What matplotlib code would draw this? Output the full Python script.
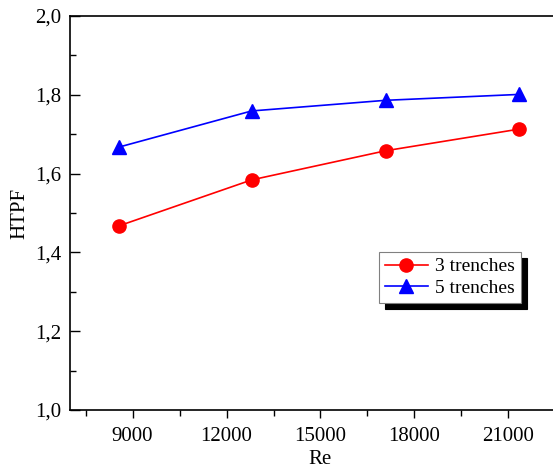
import matplotlib
matplotlib.use('Agg')
import matplotlib.pyplot as plt
from matplotlib.ticker import FuncFormatter, MultipleLocator

re_vals = [8550, 12800, 17080, 21350]
htpf_3 = [1.467, 1.584, 1.658, 1.713]
htpf_5 = [1.667, 1.759, 1.786, 1.801]
labels = ['3 trenches', '5 trenches']

plt.rcParams['font.family'] = ['Liberation Serif', 'DejaVu Serif']

fig = plt.figure(figsize=(5.53, 4.70), dpi=100)
# axes run past the right edge of the picture, as in the reference crop
ax = fig.add_axes([70/553, 1 - 410/470, (571-70)/553, (410-16)/470])

ax.plot(re_vals, htpf_3, color='red', marker='o', ms=9.5, lw=1.2, label=labels[0])
ax.plot(re_vals, htpf_5, color='blue', marker='^', ms=10, lw=1.2, label=labels[1])

ax.set_xlim(7000, 23000)
ax.set_ylim(1.0, 2.0)
ax.xaxis.set_major_locator(MultipleLocator(3000))
ax.xaxis.set_minor_locator(MultipleLocator(1500))
ax.yaxis.set_major_locator(MultipleLocator(0.2))
ax.yaxis.set_minor_locator(MultipleLocator(0.1))
ax.yaxis.set_major_formatter(FuncFormatter(lambda v, p: f'{v:.1f}'.replace('.', ',')))

ax.tick_params(axis='x', which='both', direction='out', labelsize=15, width=1, pad=6)
ax.tick_params(axis='x', which='major', length=6)
ax.tick_params(axis='x', which='minor', length=4)
ax.tick_params(axis='y', which='both', direction='in', labelsize=15, width=1, pad=6)
ax.tick_params(axis='y', which='major', length=7)
ax.tick_params(axis='y', which='minor', length=4)
for s in ax.spines.values():
    s.set_linewidth(1.2)

ax.set_xlabel('Re', fontsize=15, labelpad=3)
ax.set_ylabel('HTPF', fontsize=15, labelpad=4)

leg = ax.legend(loc='upper left', bbox_to_anchor=(379/553, 1 - 252/470),
                bbox_transform=fig.transFigure, borderaxespad=0,
                fancybox=False, edgecolor='#808080', fontsize=14,
                handlelength=2.2, handletextpad=0.4, labelspacing=0.2,
                borderpad=0.3,
                shadow={'color': 'black', 'alpha': 1, 'ox': 4.3, 'oy': -4.3})
leg.get_frame().set_linewidth(0.8)

fig.savefig('out.png', dpi=100)
